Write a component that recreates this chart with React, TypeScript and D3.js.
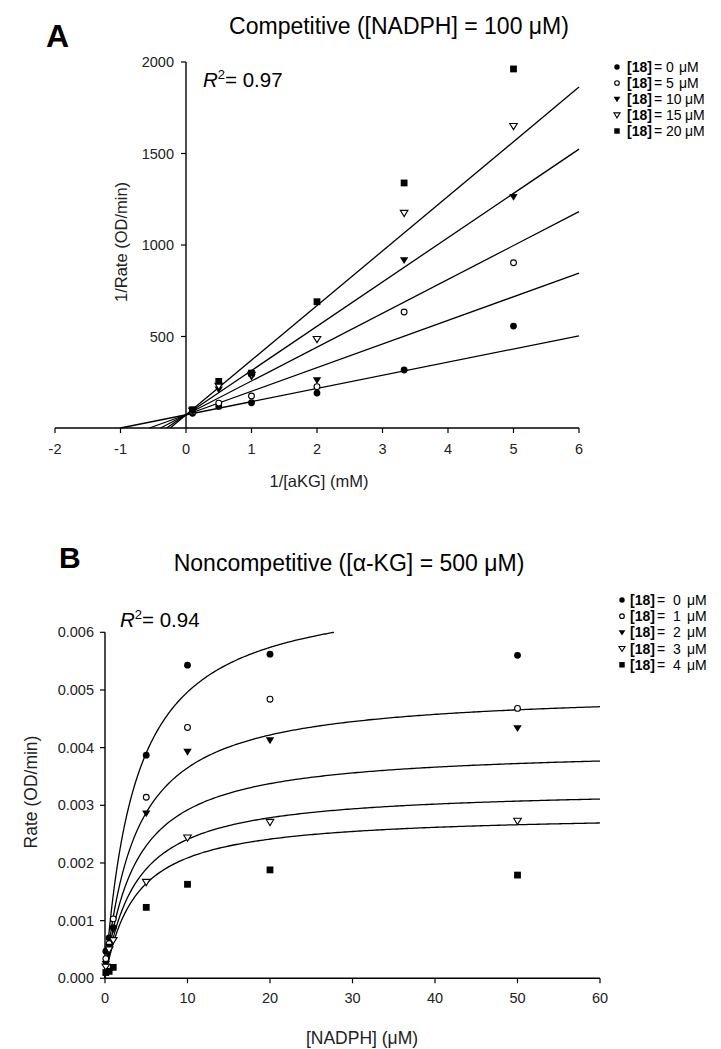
import React from "react";
import * as d3 from "d3";

// ---------- Panel A data (Lineweaver-Burk) ----------
const aX = [0.1, 0.5, 1, 2, 3.33, 5];
const aConc = ["0", "5", "10", "15", "20"];
const aS0 = [80, 118, 138, 191, 317, 557];
const aS5 = [88, 136, 175, 226, 634, 903];
const aS10 = [92, 211, 280, 262, 918, 1264];
const aS15 = [95, 230, 290, 486, 1175, 1650];
const aS20 = [100, 255, 300, 690, 1339, 1962];
const aSlopes = [72, 129, 185, 242, 298.5];
const aIntercept = 72;
const aXTicks = [-2, -1, 0, 1, 2, 3, 4, 5, 6];
const aYTicks = [500, 1000, 1500, 2000];

// ---------- Panel B data (Michaelis-Menten) ----------
const bX = [0.1, 0.5, 1, 5, 10, 20, 50];
const bConc = ["0", "1", "2", "3", "4"];
const bS0 = [0.00047, 0.0007, 0.00088, 0.00387, 0.00543, 0.00562, 0.0056];
const bS1 = [0.00034, 0.0006, 0.00103, 0.00314, 0.00435, 0.00484, 0.00468];
const bS2 = [0.00025, 0.00055, 0.00085, 0.00286, 0.00393, 0.00413, 0.00434];
const bS3 = [0.0002, 0.0005, 0.00066, 0.00167, 0.00244, 0.00271, 0.00273];
const bS4 = [0.0001, 0.00012, 0.00019, 0.00123, 0.00163, 0.00188, 0.00179];
const bVmax = [0.0068, 0.005, 0.004, 0.0033, 0.00286];
const bKm = 3.7;
const bXTicks = [0, 10, 20, 30, 40, 50, 60];
const bYTicks = [0, 0.001, 0.002, 0.003, 0.004, 0.005, 0.006];

const aSeries = [aS0, aS5, aS10, aS15, aS20];
const bSeries = [bS0, bS1, bS2, bS3, bS4];
const markerTypes = ["fcircle", "ocircle", "ftri", "otri", "fsquare"];

const FONT = "Arial, 'Liberation Sans', Helvetica, sans-serif";

function Marker({ type, x, y, s = 1 }: { type: string; x: number; y: number; s?: number }) {
  const sw = 1.1;
  switch (type) {
    case "fcircle":
      return <circle cx={x} cy={y} r={3.4 * s} fill="#000" />;
    case "ocircle":
      return <circle cx={x} cy={y} r={2.9 * s} fill="#fff" stroke="#000" strokeWidth={sw} />;
    case "ftri": {
      const w = 4.2 * s;
      return <path d={`M${x - w},${y - 2.8 * s}L${x + w},${y - 2.8 * s}L${x},${y + 4 * s}Z`} fill="#000" />;
    }
    case "otri": {
      const w = 3.8 * s;
      return (
        <path
          d={`M${x - w},${y - 2.6 * s}L${x + w},${y - 2.6 * s}L${x},${y + 3.6 * s}Z`}
          fill="#fff"
          stroke="#000"
          strokeWidth={sw}
        />
      );
    }
    default:
      return <rect x={x - 3.4 * s} y={y - 3.4 * s} width={6.8 * s} height={6.8 * s} fill="#000" />;
  }
}

export default function App() {
  // Panel A scales
  const xA = d3.scaleLinear().domain([-2, 6]).range([55, 579]);
  const yA = d3.scaleLinear().domain([0, 2000]).range([428, 62]);
  // Panel B scales
  const xB = d3.scaleLinear().domain([0, 60]).range([105, 600]);
  const yB = d3.scaleLinear().domain([0, 0.006]).range([978.3, 632.3]);

  const lineGen = d3.line<[number, number]>();

  const aLines = aSlopes.map((m) => {
    const x0 = -aIntercept / m;
    return lineGen([
      [xA(x0), yA(0)],
      [xA(6), yA(aIntercept + m * 6)],
    ]);
  });

  const bCurves = bVmax.map((vm) => {
    const yMax = 0.006;
    const xEnd = vm > yMax ? Math.min(60, (bKm * yMax) / (vm - yMax)) : 60;
    const n = 200;
    const pts: [number, number][] = d3.range(n + 1).map((i) => {
      const xv = (xEnd * i) / n;
      return [xB(xv), yB((vm * xv) / (bKm + xv))];
    });
    return lineGen(pts);
  });

  const fmtB = d3.format(".3f");
  const tickFs = 14.5;
  const legFs = 14;

  return (
    <svg
      width={721}
      height={1049}
      style={{ position: "absolute", left: 0, top: 0, background: "#fff" }}
      fontFamily={FONT}
    >
      <rect x={0} y={0} width={721} height={1049} fill="#fff" />

      {/* ================= Panel A ================= */}
      <text x={46} y={47} fontSize={32} fontWeight="bold">A</text>
      <text x={399} y={34} fontSize={23} textAnchor="middle">
        Competitive ([NADPH] = 100 μM)
      </text>
      <text x={203} y={87} fontSize={20.5}>
        <tspan fontStyle="italic">R</tspan>
        <tspan dy={-8} fontSize={13}>2</tspan>
        <tspan dy={8}>= 0.97</tspan>
      </text>

      {/* axes A */}
      <line x1={xA(-2)} x2={xA(6)} y1={yA(0)} y2={yA(0)} stroke="#000" strokeWidth={1.4} />
      <line x1={xA(0)} x2={xA(0)} y1={yA(0)} y2={yA(2000)} stroke="#000" strokeWidth={1.4} />
      {aXTicks.map((t) => (
        <g key={"ax" + t}>
          <line x1={xA(t)} x2={xA(t)} y1={yA(0)} y2={yA(0) + 5} stroke="#000" strokeWidth={1.2} />
          <text x={xA(t)} y={yA(0) + 26} fontSize={tickFs} textAnchor="middle" fill="#222">
            {t}
          </text>
        </g>
      ))}
      {aYTicks.map((t) => (
        <g key={"ay" + t}>
          <line x1={xA(0) - 5} x2={xA(0)} y1={yA(t)} y2={yA(t)} stroke="#000" strokeWidth={1.2} />
          <text x={xA(0) - 12} y={yA(t) + 5} fontSize={tickFs} textAnchor="end" fill="#222">
            {t}
          </text>
        </g>
      ))}
      <text x={319} y={487} fontSize={16.5} textAnchor="middle" fill="#222">
        1/[aKG] (mM)
      </text>
      <text
        transform={`translate(127,242) rotate(-90)`}
        fontSize={16.5}
        textAnchor="middle"
        fill="#222"
      >
        1/Rate (OD/min)
      </text>

      {/* lines A */}
      {aLines.map((d, i) => (
        <path key={"al" + i} d={d || ""} stroke="#000" strokeWidth={1.3} fill="none" />
      ))}
      {/* points A */}
      {aSeries.map((s, si) =>
        s.map((v, i) => <Marker key={`ap${si}-${i}`} type={markerTypes[si]} x={xA(aX[i])} y={yA(v)} />)
      )}

      {/* legend A */}
      {aConc.map((c, i) => {
        const y = 67 + i * 16;
        return (
          <g key={"alg" + i}>
            <Marker type={markerTypes[i]} x={617} y={y} s={0.8} />
            <text x={627} y={y + 5} fontSize={legFs}>
              <tspan fontWeight="bold">[18]</tspan>
              <tspan dx={2}>= {c}</tspan>
              <tspan x={c.length > 1 ? 685 : 679}>μM</tspan>
            </text>
          </g>
        );
      })}

      {/* ================= Panel B ================= */}
      <text x={59} y={568} fontSize={30} fontWeight="bold">B</text>
      <text x={349} y={571} fontSize={23} textAnchor="middle">
        Noncompetitive ([α-KG] = 500 μM)
      </text>
      <text x={120} y={627} fontSize={20.5}>
        <tspan fontStyle="italic">R</tspan>
        <tspan dy={-8} fontSize={13}>2</tspan>
        <tspan dy={8}>= 0.94</tspan>
      </text>

      {/* axes B */}
      <line x1={xB(0)} x2={xB(60)} y1={yB(0)} y2={yB(0)} stroke="#000" strokeWidth={1.4} />
      <line x1={xB(0)} x2={xB(0)} y1={yB(0)} y2={yB(0.006)} stroke="#000" strokeWidth={1.4} />
      {bXTicks.map((t) => (
        <g key={"bx" + t}>
          <line x1={xB(t)} x2={xB(t)} y1={yB(0)} y2={yB(0) + 5} stroke="#000" strokeWidth={1.2} />
          <text x={xB(t)} y={yB(0) + 25} fontSize={tickFs} textAnchor="middle" fill="#222">
            {t}
          </text>
        </g>
      ))}
      {bYTicks.map((t) => (
        <g key={"by" + t}>
          <line x1={xB(0) - 5} x2={xB(0)} y1={yB(t)} y2={yB(t)} stroke="#000" strokeWidth={1.2} />
          <text x={xB(0) - 11} y={yB(t) + 5} fontSize={tickFs} textAnchor="end" fill="#222">
            {fmtB(t)}
          </text>
        </g>
      ))}
      <text x={362} y={1044} fontSize={17.5} textAnchor="middle" fill="#222">
        [NADPH] (μM)
      </text>
      <text
        transform={`translate(37,792) rotate(-90)`}
        fontSize={17.5}
        textAnchor="middle"
        fill="#222"
      >
        Rate (OD/min)
      </text>

      {/* curves B */}
      {bCurves.map((d, i) => (
        <path key={"bc" + i} d={d || ""} stroke="#000" strokeWidth={1.3} fill="none" />
      ))}
      {/* points B */}
      {bSeries.map((s, si) =>
        s.map((v, i) => <Marker key={`bp${si}-${i}`} type={markerTypes[si]} x={xB(bX[i])} y={yB(v)} />)
      )}

      {/* legend B */}
      {bConc.map((c, i) => {
        const y = 600 + i * 16.2;
        return (
          <g key={"blg" + i}>
            <Marker type={markerTypes[i]} x={622} y={y} s={0.8} />
            <text x={630} y={y + 5} fontSize={legFs}>
              <tspan fontWeight="bold">[18]</tspan>
              <tspan dx={2}>=</tspan>
              <tspan x={673}>{c}</tspan>
              <tspan x={687}>μM</tspan>
            </text>
          </g>
        );
      })}
    </svg>
  );
}
